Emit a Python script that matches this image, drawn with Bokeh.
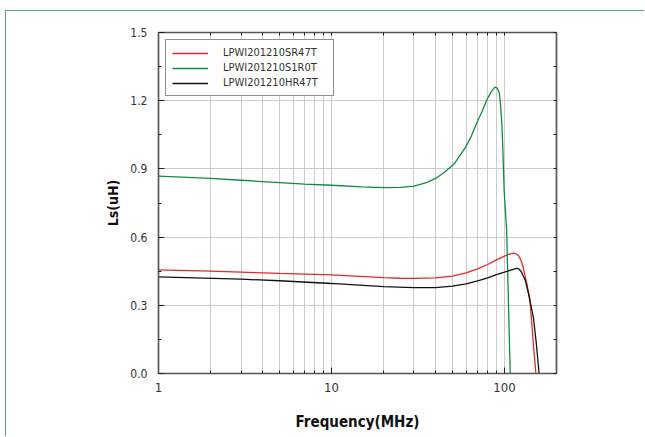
from bokeh.plotting import figure
from bokeh.models import (FixedTicker, LogAxis, LinearAxis, Legend, LegendItem,
                          Range1d, PrintfTickFormatter)
from bokeh.embed import file_html
from bokeh.resources import INLINE

# ---- data ----
freq_s1r0 = [1, 2, 3, 5, 7, 10, 15, 20, 25, 30, 35, 40, 45, 51, 59, 64, 69, 74, 79, 84, 88,
             91, 93.5, 95, 96.6, 98, 99.6, 103, 108]
ls_s1r0 = [0.868, 0.858, 0.850, 0.840, 0.833, 0.828, 0.821, 0.818, 0.819, 0.824, 0.838, 0.858,
           0.885, 0.92, 0.99, 1.04, 1.10, 1.15, 1.203, 1.24, 1.26, 1.255, 1.233, 1.18, 1.10,
           0.98, 0.806, 0.63, 0.0]

freq_sr47 = [1, 2, 3, 5, 10, 20, 25, 30, 40, 50, 60, 70, 80, 90, 100, 107, 112.7, 117, 120.5,
             124, 127.6, 134.3, 140.3, 146, 152]
ls_sr47 = [0.456, 0.450, 0.446, 0.440, 0.434, 0.422, 0.419, 0.418, 0.421, 0.428, 0.443, 0.4605,
           0.4795, 0.50, 0.516, 0.525, 0.529, 0.526, 0.519, 0.502, 0.475, 0.40, 0.328, 0.159,
           0.0]

freq_hr47 = [1, 3, 5, 10, 20, 30, 40, 50, 60, 70, 80, 90, 100, 110, 118.6, 122, 125.5, 132.2,
             137.8, 147, 153, 158.6]
ls_hr47 = [0.425, 0.415, 0.408, 0.396, 0.3825, 0.378, 0.378, 0.384, 0.394, 0.4075, 0.421, 0.435,
           0.4456, 0.456, 0.463, 0.458, 0.4456, 0.409, 0.35, 0.247, 0.13, 0.0]

series_names = ["LPWI201210SR47T", "LPWI201210S1R0T", "LPWI201210HR47T"]

x_major = [1, 10, 100]
x_minor = [2, 3, 4, 5, 6, 7, 8, 9, 20, 30, 40, 50, 60, 70, 80, 90, 200]
y_major = [0.0, 0.3, 0.6, 0.9, 1.2, 1.5]
y_minor = [0.15, 0.45, 0.75, 1.05, 1.35]

NARROW = "DejaVu Sans Condensed, Liberation Sans, sans-serif"
AXIS_C = "#555555"
GRID_C = "#cccccc"
BORDER_C = "#5aa877"

p = figure(width=639, height=426, x_axis_type="log",
           x_range=Range1d(1, 200), y_range=Range1d(0, 1.5),
           output_backend="svg", toolbar_location=None,
           min_border_left=152, min_border_top=21, min_border_right=89,
           min_border_bottom=64)
# green page frame: only its left and top edges fall inside the window
p.styles = {"border-left": f"1px solid {BORDER_C}", "border-top": f"1px solid {BORDER_C}",
            "margin-left": "5px", "margin-top": "10px"}
p.outline_line_color = AXIS_C
p.outline_line_width = 1.2

xt = FixedTicker(ticks=x_major, minor_ticks=x_minor)
yt = FixedTicker(ticks=y_major, minor_ticks=y_minor)


def style_axis(ax, labels=True):
    ax.axis_line_color = AXIS_C
    ax.axis_line_width = 1.5
    ax.major_tick_line_color = "#222222"
    ax.minor_tick_line_color = "#222222"
    ax.major_tick_in = 6
    ax.major_tick_out = 0
    ax.minor_tick_in = 3
    ax.minor_tick_out = 0
    ax.major_label_text_font = NARROW
    ax.major_label_text_color = "#333333"
    ax.axis_label_text_font = NARROW
    ax.axis_label_text_font_style = "bold"
    ax.axis_label_text_color = "#111111"
    if not labels:
        ax.major_label_text_alpha = 0.0
        ax.major_label_text_font_size = "2px"
        ax.major_label_standoff = 0


xa = p.xaxis[0]
xa.ticker = xt
xa.formatter = PrintfTickFormatter(format="%d")
style_axis(xa)
xa.major_label_text_font_size = "13px"
xa.major_label_standoff = 9
xa.axis_label = "Frequency(MHz)"
xa.axis_label_text_font_size = "15px"
xa.axis_label_standoff = 18

ya = p.yaxis[0]
ya.ticker = yt
ya.formatter = PrintfTickFormatter(format="%.1f")
style_axis(ya)
ya.major_label_text_font_size = "12px"
ya.major_label_standoff = 11
ya.axis_label = "Ls(uH)"
ya.axis_label_text_font_size = "14px"
ya.axis_label_standoff = 6

top = LogAxis(ticker=xt)
style_axis(top, labels=False)
top.major_tick_in = 3
p.add_layout(top, "above")

right = LinearAxis(ticker=yt)
style_axis(right, labels=False)
right.major_tick_in = 3
p.add_layout(right, "right")

p.xgrid.ticker = xt
p.xgrid.grid_line_color = GRID_C
p.xgrid.minor_grid_line_color = GRID_C
p.ygrid.ticker = yt
p.ygrid.grid_line_color = GRID_C

r1 = p.line(freq_sr47, ls_sr47, line_color="#e5282a", line_width=1.3)
r2 = p.line(freq_s1r0, ls_s1r0, line_color="#138a44", line_width=1.3)
r3 = p.line(freq_hr47, ls_hr47, line_color="#111111", line_width=1.3)

legend = Legend(items=[LegendItem(label=series_names[0], renderers=[r1]),
                       LegendItem(label=series_names[1], renderers=[r2]),
                       LegendItem(label=series_names[2], renderers=[r3])],
                location="top_left", margin=7, padding=6, spacing=2,
                glyph_width=36, glyph_height=12, label_height=12, label_width=104,
                label_standoff=15, label_text_font=NARROW, label_text_font_size="11px",
                label_text_color="#333333", border_line_color="#222222",
                border_line_width=1, background_fill_alpha=1.0)
p.add_layout(legend)

open("out.html", "w").write(file_html(p, INLINE))
